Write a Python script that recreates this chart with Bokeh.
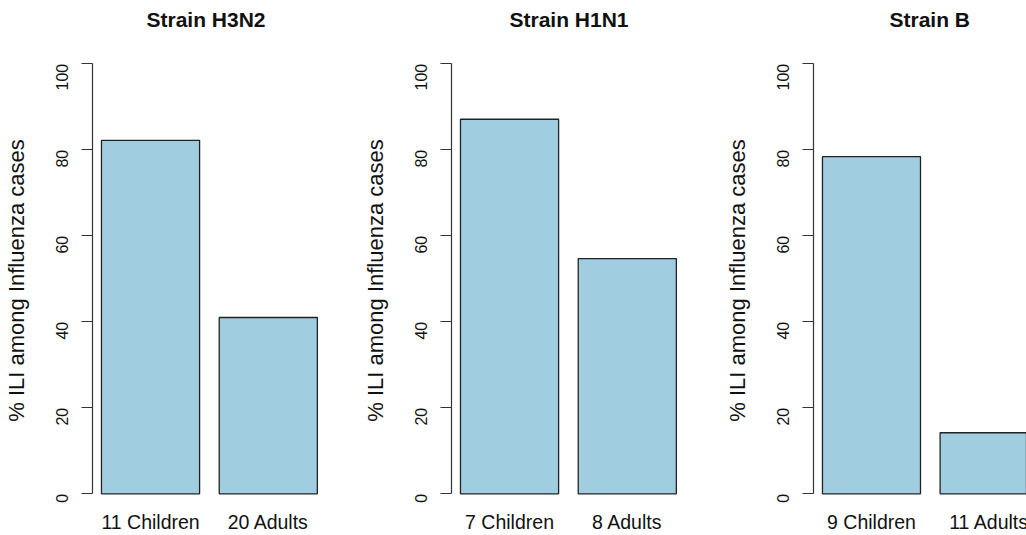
import math
from bokeh.plotting import figure
from bokeh.layouts import row
from bokeh.models import Range1d, FixedTicker, ColumnDataSource
from bokeh.core.properties import value
from bokeh.embed import file_html
from bokeh.resources import INLINE

# ---------------- data ----------------
strains = ["Strain H3N2", "Strain H1N1", "Strain B"]
group_labels = [["11 Children", "20 Adults"],
                ["7 Children", "8 Adults"],
                ["9 Children", "11 Adults"]]
pct_children = [82.2, 87.1, 78.4]
pct_adults = [41.0, 54.7, 14.2]
y_ticks = [0, 20, 40, 60, 80, 100]
y_label = "% ILI among Influenza cases"

# ---------------- layout constants (pixels) ----------------
FONT = "Liberation Sans"
H = 535                      # canvas height
FRAME_TOP = 25               # screen y of frame top (frame centre ~ 280)
Y0_PX, Y100_PX = 493.3, 63.3  # screen y of value 0 and 100
PX_PER_Y = (Y0_PX - Y100_PX) / 100.0
PX_PER_X = 98.5
BORDER = 91
axis_px = [91, 450, 812]     # screen x of each y axis
title_left_px = [145, 508, 888]
fig_left = [a - BORDER for a in axis_px] + [1026]
fig_left[0] = 0
fig_widths = [fig_left[i + 1] - fig_left[i] for i in range(3)]
left_borders = [axis_px[i] - fig_left[i] for i in range(3)]
BAR_W, SPACE = 1.0, 0.2
AXIS_GAP = 9                 # px between axis and first bar
XLAB_POS_PX = 521.5          # screen y anchor of category labels

y_start = -(H - Y0_PX) / PX_PER_Y
y_end = 100 + (Y100_PX - FRAME_TOP) / PX_PER_Y
xlab_y = -(XLAB_POS_PX - Y0_PX) / PX_PER_Y

figs = []
for k in range(3):
    vals = [pct_children[k], pct_adults[k]]
    centers = [SPACE + BAR_W / 2 + i * (BAR_W + SPACE) for i in range(len(vals))]
    frame_w = fig_widths[k] - left_borders[k]
    x_start = SPACE - AXIS_GAP / PX_PER_X
    x_end = x_start + frame_w / PX_PER_X

    p = figure(width=fig_widths[k], height=H, output_backend="svg",
               toolbar_location=None, x_range=Range1d(x_start, x_end),
               y_range=Range1d(y_start, y_end), x_axis_location=None,
               min_border_left=left_borders[k], min_border_right=0,
               min_border_top=FRAME_TOP, min_border_bottom=0)
    p.outline_line_color = None
    p.grid.visible = False
    p.background_fill_color = "white"
    p.border_fill_color = "white"

    p.title.text = strains[k]
    p.title.align = "left"
    p.title.offset = title_left_px[k] - axis_px[k]
    p.title.vertical_align = "bottom"
    p.title.standoff = -10
    p.title.text_font = FONT
    p.title.text_font_size = "21px"
    p.title.text_font_style = "bold"
    p.title.text_color = "#111111"

    src = ColumnDataSource(dict(x=centers, top=vals, label=group_labels[k]))
    p.vbar(x="x", top="top", bottom=0, width=BAR_W, source=src,
           fill_color="#a0cddf", line_color="#222222", line_width=1.3)

    p.text(x="x", y=xlab_y, text="label", source=src,
           text_align="center", text_baseline="alphabetic",
           text_font=value(FONT), text_font_size="19.5px", text_color="#111111")

    ax = p.yaxis[0]
    ax.bounds = (0, 100)
    ax.ticker = FixedTicker(ticks=y_ticks)
    ax.minor_tick_line_color = None
    ax.major_tick_in = 0
    ax.major_tick_out = 11
    ax.axis_line_color = "#333333"
    ax.major_tick_line_color = "#333333"
    ax.axis_line_width = 1.2
    ax.major_tick_line_width = 1.2
    ax.major_label_orientation = math.pi / 2
    ax.major_label_text_font = FONT
    ax.major_label_text_font_size = "16px"
    ax.major_label_text_color = "#111111"
    ax.major_label_standoff = 19
    ax.axis_label = y_label
    ax.axis_label_text_font = FONT
    ax.axis_label_text_font_size = "22px"
    ax.axis_label_text_font_style = "normal"
    ax.axis_label_text_color = "#111111"
    ax.axis_label_standoff = 19
    figs.append(p)

layout = row(*figs, spacing=0)
open("out.html", "w").write(file_html(layout, INLINE))
